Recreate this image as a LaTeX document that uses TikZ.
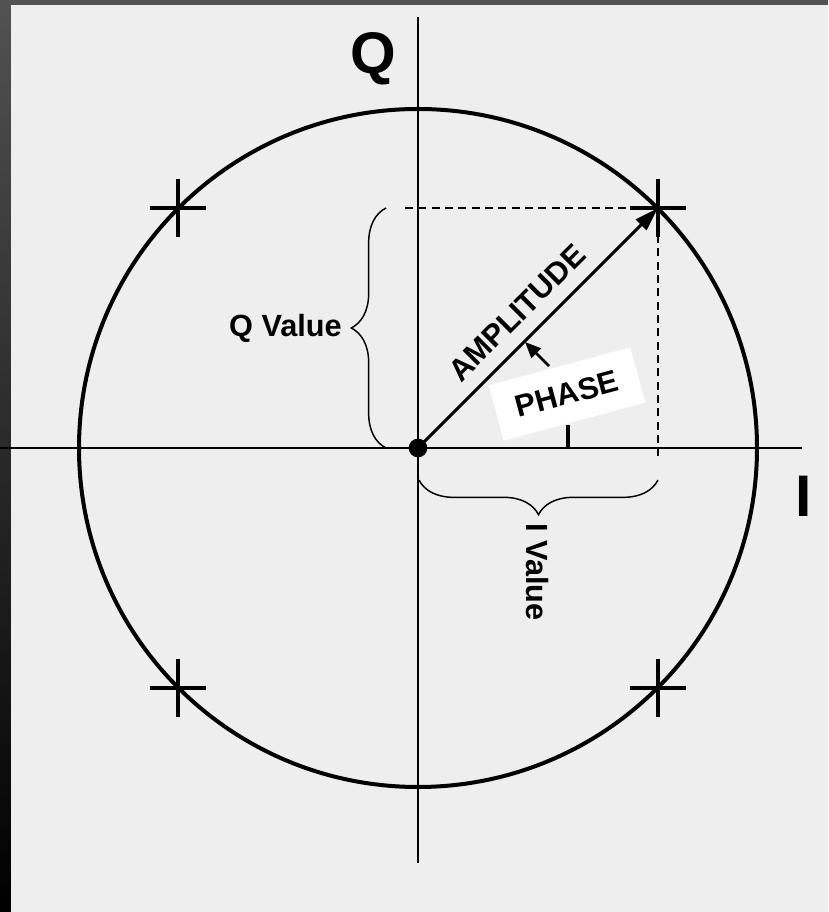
\documentclass[tikz,border=0pt]{standalone}
\usepackage{fontspec}
\setmainfont{Liberation Sans}
\usetikzlibrary{arrows.meta,decorations.pathreplacing}
\definecolor{bgpanel}{HTML}{EEEEEE}
\definecolor{frame}{HTML}{525252}

\begin{document}
\begin{tikzpicture}[
  x=0.75pt, y=0.75pt,
  axis/.style={line width=1.1pt},
  ring/.style={line width=3pt},
  crossline/.style={line width=3pt},
  guide/.style={dash pattern=on 6pt off 4pt, line width=1.8pt},
  vec/.style={-{Triangle[length=18pt,width=11pt]}, line width=2.25pt},
  ptr/.style={-{Triangle[length=12pt,width=10pt]}, line width=2pt},
  brc/.style={decorate, decoration={brace, amplitude=26pt}, line width=1.1pt},
  lbl/.style={font=\bfseries\fontsize{23}{23}\selectfont, inner sep=0pt},
  axlbl/.style={font=\bfseries\fontsize{44}{44}\selectfont, inner sep=0pt},
  dot/.style={circle, fill=black, minimum size=14pt, inner sep=0pt}
]
% frame and panel
\useasboundingbox (-418,-464) rectangle (410,448);
\fill[bgpanel] (-418,-464) rectangle (410,448);
\shade[top color=frame, bottom color=black] (-418,-464) rectangle (-407,448);
\fill[frame] (-418,443) rectangle (410,448);

% axes and circle
\coordinate (O) at (0,0);
\draw[axis] (-418,0) -- (384,0);
\draw[axis] (0,-415) -- (0,431);
\draw[ring] (O) circle[radius=339];
\node[axlbl] (qaxis) at (-45,389) {Q};
\node[axlbl] (iaxis) at (386,-48) {I};

% constellation points
\coordinate (P) at (240,240);
\foreach \sx/\sy in {1/1,-1/1,-1/-1,1/-1}
  \draw[crossline] (240*\sx-28,240*\sy) -- ++(56,0) (240*\sx,240*\sy-29) -- ++(0,58);

% I and Q projections
\coordinate (qend) at (-13,240);
\coordinate (iend) at (240,-9);
\draw[guide] (qend) -- (P) -- (iend);

% amplitude and phase
\node[dot] (dot) at (O) {};
\draw[vec] (O) -- (P);
\node[lbl, rotate=45] (amp) at (99,135) {AMPLITUDE};
\draw[line width=3pt] (150,0) -- (150,23);
\node[lbl, fill=white, rotate=15, minimum width=110pt, minimum height=43pt] (phase) at (149,54) {PHASE};
\coordinate (phtail) at (131,82);
\coordinate (phtip) at (107,106);
\draw[ptr] (phtail) -- (phtip);

% braces
\coordinate (qlo) at (-32,0);
\coordinate (qhi) at (-32,240);
\draw[brc] (qlo) -- (qhi);
\node[lbl, anchor=east] (qval) at (-76,120) {Q Value};
\coordinate (ihi) at (240,-32);
\coordinate (ilo) at (1,-32);
\draw[brc] (ihi) -- (ilo);
\node[lbl, rotate=-90, anchor=west] (ival) at (119,-75) {I Value};
\end{tikzpicture}
\end{document}
